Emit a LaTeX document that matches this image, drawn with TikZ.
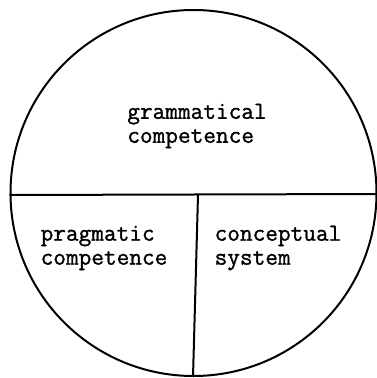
\documentclass[tikz,border=0pt]{standalone}
\usepackage{fontspec}
\setmonofont[FakeBold=1.2,BoldFont={Latin Modern Mono}]{Latin Modern Mono}
\begin{document}
\begin{tikzpicture}[x=1pt,y=-1pt,
  lbl/.style={font=\ttfamily\bfseries\fontsize{24.6}{24}\selectfont, align=left, inner sep=0pt},
  ln/.style={line width=2pt}]
\useasboundingbox (0,0) rectangle (377,378);
\node[ln, draw, circle, minimum size=366pt, inner sep=0pt] (c) at (193.5,193) {};
\coordinate (hl) at (c.west |- 0,195);
\coordinate (hr) at (377,194);
\coordinate (vt) at (198,195);
\coordinate (vb) at (193,377);
\draw[ln] (hl) -- (hr);
\draw[ln] (vt) -- (vb);
\node[lbl] (g) at (197,126) {grammatical\\competence};
\node[lbl] (p) at (104,248) {pragmatic\\competence};
\node[lbl] (s) at (278,248) {conceptual\\system};
\end{tikzpicture}
\end{document}
